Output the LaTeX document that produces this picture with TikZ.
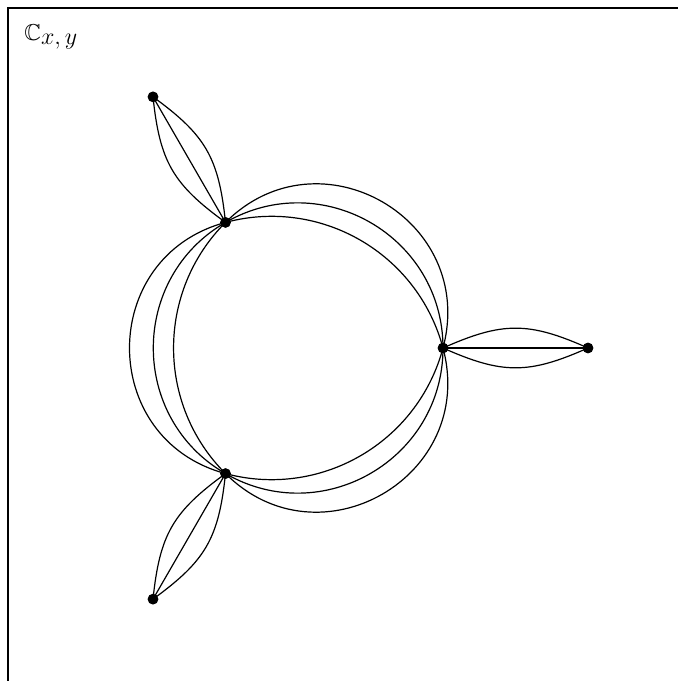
\documentclass[tikz,border=0pt]{standalone}
\usepackage{amssymb}
\usetikzlibrary{calc}
\begin{document}
\begin{tikzpicture}[x=0.5pt,y=0.5pt,
  dot/.style={circle,fill=black,inner sep=0pt,minimum size=5pt},
  curve/.style={line width=0.6pt},
  frameline/.style={line width=0.6pt}]
\useasboundingbox (0,0) rectangle (678,681);
\draw[frameline] (8,0) -- (8,673) -- (678,673);
\node[anchor=base west,inner sep=0pt] (lbl) at (24,640) {\fontsize{11.5}{13}\selectfont$\mathbb{C}_{\textstyle x,y}$};
\coordinate (O) at (298,333);
\node[dot] (A) at ($(O)+(0:145)$) {};
\node[dot] (B) at ($(O)+(120:145)$) {};
\node[dot] (C) at ($(O)+(240:145)$) {};
\node[dot] (D) at ($(O)+(0:290)$) {};
\node[dot] (E) at ($(O)+(120:290)$) {};
\node[dot] (F) at ($(O)+(240:290)$) {};
% side A-B
\draw[curve] (A.center) to[out=105,in=15,looseness=1.0] (B.center);
\draw[curve] (A.center) to[out=90,in=30,looseness=1.135] (B.center);
\draw[curve] (A.center) to[out=75,in=45,looseness=1.353] (B.center);
% side B-C
\draw[curve] (B.center) to[out=225,in=135,looseness=1.0] (C.center);
\draw[curve] (B.center) to[out=210,in=150,looseness=1.135] (C.center);
\draw[curve] (B.center) to[out=195,in=165,looseness=1.353] (C.center);
% side C-A
\draw[curve] (C.center) to[out=-15,in=255,looseness=1.0] (A.center);
\draw[curve] (C.center) to[out=-30,in=270,looseness=1.135] (A.center);
\draw[curve] (C.center) to[out=-45,in=285,looseness=1.353] (A.center);
% lobes
\draw[curve] (A.center) to[out=24,in=156,looseness=1.15] (D.center);
\draw[curve] (A.center) to[out=-24,in=204,looseness=1.15] (D.center);
\draw[curve] (A.center) -- (D.center);
\draw[curve] (B.center) to[out=144,in=276,looseness=1.15] (E.center);
\draw[curve] (B.center) to[out=96,in=324,looseness=1.15] (E.center);
\draw[curve] (B.center) -- (E.center);
\draw[curve] (C.center) to[out=264,in=36,looseness=1.15] (F.center);
\draw[curve] (C.center) to[out=216,in=84,looseness=1.15] (F.center);
\draw[curve] (C.center) -- (F.center);
\foreach \n in {A,B,C,D,E,F} \fill (\n.center) circle[radius=2.7pt];
\end{tikzpicture}
\end{document}
